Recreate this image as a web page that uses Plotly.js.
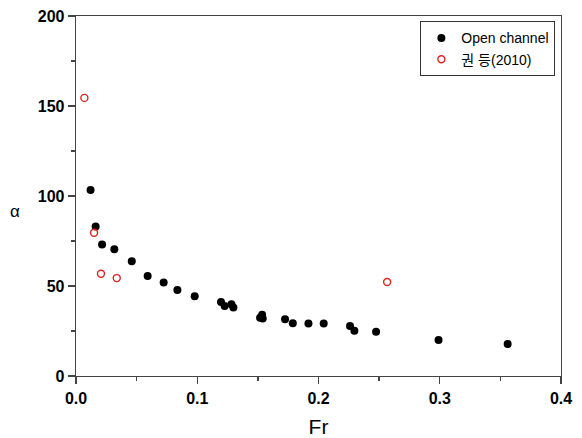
<!DOCTYPE html>
<html><head><meta charset="utf-8">
<script src="https://cdn.plot.ly/plotly-3.0.1.min.js"></script>
<style>html,body{margin:0;padding:0;background:#fff}#chart{width:582px;height:438px}</style>
</head><body><div id="chart"></div>
<script>
const openFr = [0.012, 0.0162, 0.0215, 0.0316, 0.046, 0.0591, 0.0723, 0.0836, 0.0979, 0.1196, 0.1226, 0.1282, 0.1298, 0.1518, 0.1535, 0.154, 0.1724, 0.1788, 0.1917, 0.2043, 0.226, 0.2296, 0.2475, 0.299, 0.356];
const openAlpha = [103.3, 83, 73, 70.4, 63.7, 55.6, 52, 47.8, 44.3, 41.1, 38.9, 39.8, 38, 32.4, 34, 31.9, 31.5, 29.3, 29.1, 29.1, 27.8, 25.2, 24.6, 20, 17.8];
const kwonFr = [0.0069, 0.0149, 0.0206, 0.0336, 0.2566];
const kwonAlpha = [154.5, 79.6, 56.8, 54.4, 52.2];
const xTicks = [0, 0.1, 0.2, 0.3, 0.4];
const xTickText = ['0.0', '0.1', '0.2', '0.3', '0.4'];
const yTicks = [0, 50, 100, 150, 200];

const fam = 'Liberation Sans, Arial, Noto Sans CJK KR, sans-serif';
const axisCol = '#444';
const data = [
  {x: openFr, y: openAlpha, mode: 'markers', type: 'scatter', name: 'Open channel',
   marker: {color: '#000', size: 8, symbol: 'circle'}},
  {x: kwonFr, y: kwonAlpha, mode: 'markers', type: 'scatter', name: '권 등(2010)',
   marker: {color: '#e02020', size: 7, symbol: 'circle-open', line: {color: '#e02020', width: 1.4}}}
];
const layout = {
  width: 582, height: 438,
  margin: {l: 76, r: 21, t: 16, b: 62},
  paper_bgcolor: '#fff', plot_bgcolor: '#fff',
  showlegend: true,
  legend: {x: 0.71, y: 0.985, xanchor: 'left', yanchor: 'top', bgcolor: '#fff',
    bordercolor: '#333', borderwidth: 1, font: {family: fam, size: 14, color: '#000'},
    tracegroupgap: 0, itemwidth: 30},
  xaxis: {range: [0, 0.4], tickvals: xTicks, ticktext: xTickText, showgrid: false, zeroline: false,
    showline: true, linecolor: axisCol, linewidth: 1.3, mirror: true, ticks: 'outside', ticklen: 7,
    tickcolor: axisCol, tickwidth: 1.3,
    minor: {dtick: 0.05, tick0: 0, ticks: 'outside', ticklen: 4, tickcolor: axisCol, tickwidth: 1.3},
    tickfont: {family: fam, size: 16, color: '#000', weight: 'bold'},
    title: {text: 'Fr', font: {family: fam, size: 21, color: '#000'}, standoff: 14}},
  yaxis: {range: [0, 200], tickvals: yTicks, showgrid: false, zeroline: false,
    showline: true, linecolor: axisCol, linewidth: 1.3, mirror: true, ticks: 'outside', ticklen: 7,
    tickcolor: axisCol, tickwidth: 1.3,
    minor: {dtick: 25, tick0: 0, ticks: 'outside', ticklen: 4, tickcolor: axisCol, tickwidth: 1.3},
    tickfont: {family: fam, size: 16, color: '#000', weight: 'bold'}},
  annotations: [{text: 'α', xref: 'paper', yref: 'paper', x: -0.126, y: 0.458, showarrow: false,
    xanchor: 'center', yanchor: 'middle', font: {family: fam, size: 17, color: '#000'}}]
};
Plotly.newPlot('chart', data, layout, {displayModeBar: false, staticPlot: true});
</script></body></html>
